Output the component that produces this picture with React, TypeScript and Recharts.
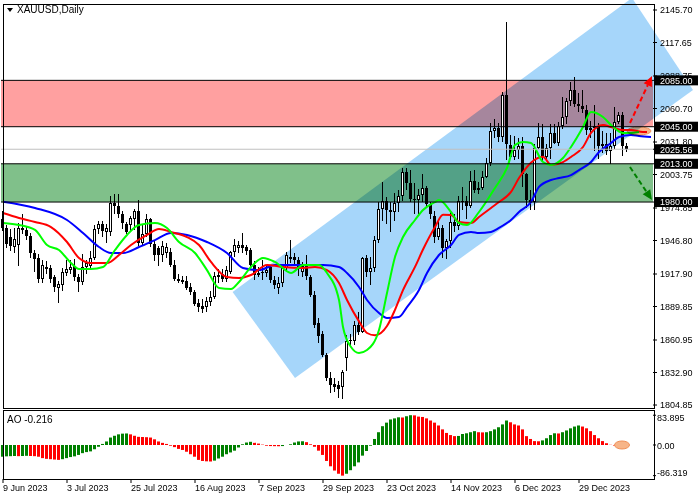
import React from 'react';
import {
  ComposedChart, Bar, Line, XAxis, YAxis, ReferenceArea, ReferenceLine, ReferenceDot, Cell,
} from 'recharts';

const FONT = '"Liberation Sans", Arial, sans-serif';
const SYMBOL = 'XAUUSD,Daily';
const AO_NAME = 'AO';

// x-axis (bar index of each labelled date)
const DATE_LABELS = ['9 Jun 2023', '3 Jul 2023', '25 Jul 2023', '16 Aug 2023', '7 Sep 2023', '29 Sep 2023', '23 Oct 2023', '14 Nov 2023', '6 Dec 2023', '29 Dec 2023'];
const DATE_BARS = [0, 16, 32, 48, 64, 80, 96, 112, 128, 144];

const PRICE_TICKS = [2145.7, 2117.65, 2088.75, 2060.7, 2031.8, 2003.75, 1974.85, 1946.8, 1917.9, 1889.85, 1860.95, 1832.9, 1804.85];
const AO_TICKS = [83.895, 0, -86.319];

const OPEN = [1965,1958,1950,1941,1943,1958,1956,1951,1936,1932,
1914,1924,1923,1915,1906,1908,1919,1921,1925,1915,
1911,1924,1925,1932,1957,1961,1954,1954,1979,1977,
1970,1961,1960,1965,1972,1945,1952,1965,1944,1940,
1934,1936,1937,1926,1914,1913,1912,1907,1902,1893,
1890,1889,1894,1898,1915,1918,1914,1920,1937,1940,
1943,1941,1939,1926,1917,1919,1919,1924,1913,1906,
1910,1923,1931,1933,1930,1920,1925,1915,1900,1876,
1866,1848,1828,1823,1822,1820,1845,1860,1860,1874,
1868,1932,1920,1923,1947,1974,1981,1973,1971,1979,
1985,2006,1996,1983,1982,1986,1992,1978,1968,1950,
1958,1940,1946,1963,1959,1981,1981,1977,1998,1990,
1992,2002,2014,2041,2044,2036,2072,2029,2019,2025,
2028,2004,1982,1980,2027,2036,2019,2027,2040,2031,
2046,2053,2067,2077,2065,2063,2059,2042,2044,2046,
2028,2030,2024,2028,2049,2055,2028];

const HIGH = [1972,1960,1957,1958,1962,1970,1959,1953,1939,1935,
1930,1929,1926,1917,1912,1923,1930,1930,1931,1918,
1935,1930,1938,1960,1964,1964,1961,1985,1987,1987,
1972,1963,1968,1974,1982,1960,1970,1966,1946,1942,
1946,1945,1940,1930,1918,1916,1916,1910,1904,1896,
1896,1898,1903,1920,1922,1922,1925,1938,1948,1946,
1953,1943,1940,1929,1924,1930,1925,1926,1916,1915,
1926,1937,1947,1936,1933,1928,1934,1917,1903,1880,
1869,1850,1833,1828,1826,1835,1865,1866,1877,1885,
1933,1934,1933,1951,1980,1997,1984,1980,1988,1990,
2009,2009,2008,1996,1991,2004,1994,1980,1972,1965,
1960,1948,1971,1970,1985,1993,1985,2007,2008,1997,
2007,2018,2048,2052,2048,2075,2135,2038,2037,2035,
2036,2005,1990,2030,2048,2047,2030,2047,2047,2049,
2071,2070,2084,2088,2074,2077,2064,2050,2064,2048,
2041,2040,2040,2062,2058,2058,2031];

const LOW = [1955,1940,1938,1936,1925,1952,1947,1932,1920,1910,
1910,1918,1910,1902,1893,1903,1916,1918,1912,1902,
1908,1918,1922,1930,1952,1950,1945,1951,1970,1966,
1957,1952,1955,1956,1942,1942,1950,1941,1929,1925,
1928,1932,1924,1912,1910,1909,1904,1900,1890,1885,
1884,1885,1890,1896,1910,1911,1911,1918,1933,1936,
1936,1934,1922,1913,1915,1913,1915,1910,1905,1901,
1907,1920,1927,1925,1916,1915,1913,1898,1871,1858,
1846,1826,1815,1816,1811,1810,1834,1855,1857,1865,
1867,1915,1908,1920,1945,1964,1961,1954,1964,1971,
1981,1990,1980,1970,1970,1980,1975,1965,1945,1947,
1932,1931,1940,1954,1956,1973,1965,1975,1988,1987,
1990,2001,2011,2035,2032,2032,2016,2017,2016,2017,
1993,1975,1973,1973,2026,2015,2016,2017,2030,2028,
2043,2047,2063,2062,2058,2057,2038,2035,2024,2017,
2022,2021,2013,2026,2047,2020,2023];

const CLOSE = [1958,1944,1942,1948,1958,1956,1951,1936,1931,1914,
1926,1922,1914,1907,1909,1920,1922,1924,1915,1911,
1924,1927,1932,1957,1961,1955,1958,1979,1977,1970,
1962,1954,1966,1972,1945,1952,1965,1944,1934,1934,
1942,1941,1926,1914,1912,1911,1906,1902,1892,1889,
1888,1895,1898,1916,1917,1914,1921,1937,1943,1943,
1940,1938,1926,1917,1919,1920,1921,1913,1908,1910,
1923,1934,1933,1930,1922,1925,1916,1900,1874,1864,
1848,1828,1822,1820,1819,1833,1860,1861,1874,1868,
1932,1920,1923,1947,1974,1981,1973,1971,1979,1985,
2006,1996,1983,1982,1986,1992,1978,1970,1950,1958,
1940,1946,1963,1959,1981,1980,1977,1998,1990,1992,
2002,2014,2041,2044,2036,2072,2030,2019,2025,2028,
2004,1982,1980,2027,2036,2019,2027,2040,2031,2046,
2053,2067,2077,2065,2063,2060,2042,2044,2046,2028,
2030,2024,2028,2049,2055,2028,2025.56];

const AO = [-33,-32,-31.5,-31,-31.5,-31,-30.5,-31,-31.5,-33,
-37,-39,-40,-41,-42,-40,-37,-34,-32,-28,
-23,-20,-18,-12,-5,3,10,21,26,30,
32,32.5,30,26,23,22.5,22,21,16,10,
6,3,-2,-6,-11,-14,-19,-26,-33,-42,
-45,-46,-46.5,-44,-38,-33,-26,-21,-16,-7,
2,7,9,6,4,1,-2,-3,-3.3,-3.5,
-3,0,2,7,10,10.5,8,2,-5,-16,
-28,-45,-60,-72,-81,-86.319,-81,-71,-60,-49,
-30,-17,-2,17,36,53,63,72,75,78,
77.5,81,83.895,83.5,80,79,75,69,63,55,
44,34,28,25,25.5,31,33,36,39,36,
35.5,36,39,44,50,58,69,64,58,55,
44,25,17,11,10.5,13,19,28,33,32.5,
36,41,47,52,55,52,47,39,28,19,
11,5,0.5,-1.5,0.3,0.1,-0.216];

// Alligator lines: [bar index, price]
const JAW: [number, number][] = [[0,1980.3],[8,1974.9],[16,1964.5],[20,1953.3],[24,1941.2],[27,1936],[30,1936],[34,1941.2],[38,1947.2],[42,1953.3],[46,1951.6],[51,1945.5],[56,1936],[60,1923.1],[64,1921.3],[68,1925.7],[74,1925.7],[80,1925.7],[84,1923.9],[86,1918.8],[89,1906.7],[91,1895.5],[94,1884.2],[96,1879.9],[99,1880.8],[101,1889.4],[104,1904.1],[106,1918.8],[109,1934.3],[112,1942.9],[114,1951.6],[117,1954.2],[119,1953.3],[122,1954.2],[124,1957.6],[127,1964.5],[129,1971.4],[132,1980],[134,1993],[137,1999],[139,2000.7],[142,2003.3],[144,2007.6],[147,2014.5],[149,2023.2],[152,2030.9],[154,2036.1],[157,2037.8],[159,2037],[162,2036.1]];
const TEETH: [number, number][] = [[0,1970.5],[4,1966.2],[8,1962.8],[12,1958.4],[16,1945.5],[19,1931.7],[22,1927.4],[26,1927.4],[29,1934.3],[32,1942.9],[36,1951.6],[39,1956.7],[42,1954.2],[46,1949.8],[49,1942.9],[52,1928.3],[56,1915.3],[59,1914.4],[62,1917],[66,1925.7],[70,1923.9],[75,1923.1],[78,1923.9],[81,1921.3],[84,1910.1],[86,1895.5],[89,1877],[91,1867],[93,1865],[96,1873],[98,1887],[100,1904],[103,1924],[105,1939],[108,1958.4],[110,1969],[112,1968.8],[114,1962.8],[117,1961.9],[119,1967.1],[122,1974.9],[124,1980],[127,1988.7],[129,2000.7],[132,2014],[135,2019],[137,2012],[140,2014.5],[142,2018.9],[145,2027.5],[147,2039.6],[150,2046.5],[152,2044.7],[155,2042.1],[157,2042.1],[160,2040.4],[161,2040.4]];
const LIPS: [number, number][] = [[0,1961.9],[4,1960.2],[8,1955.9],[11,1942.9],[14,1938.6],[17,1927.4],[19,1922.2],[22,1922.2],[25,1923.9],[28,1938.6],[31,1951.6],[34,1960.2],[38,1961.9],[41,1957.6],[44,1945.5],[48,1936],[51,1921.3],[54,1905.8],[57,1904.9],[59,1911],[62,1923.9],[65,1931.7],[68,1928.3],[72,1918.8],[75,1925.7],[79,1925.7],[81,1918.8],[84,1895.5],[85,1872.2],[87,1854.9],[89,1849.7],[91,1852.3],[94,1869.6],[96,1901.5],[98,1932.6],[100,1949.8],[103,1964.5],[105,1973.1],[108,1980],[109,1981.7],[112,1971.4],[114,1961.9],[116,1960.2],[119,1971.4],[123,1992.1],[126,2009.4],[128,2029.2],[130,2031.8],[132,2030.9],[135,2014.5],[137,2012],[140,2018],[142,2027.5],[145,2044.7],[147,2057.7],[150,2053.4],[152,2046.5],[155,2039.6],[157,2039.6],[159,2040.4]];

// analysis objects
const RESIST_ZONE = [2045, 2085];
const SUPPORT_ZONE = [1980, 2013];
const LAST_PRICE = 2025.56;
const LEVEL_TAGS = [RESIST_ZONE[1], RESIST_ZONE[0], LAST_PRICE, SUPPORT_ZONE[1], SUPPORT_ZONE[0]];
const CHANNEL = [{ i: 57.4, p: 1902.3 }, { i: 73, p: 1828.2 }, { i: 172.5, p: 2076.7 }, { i: 157.25, p: 2156.1 }];
const UP_ARROW = [{ x: 156.75, y: 2048.2 }, { x: 162.25, y: 2088.7 }];
const DOWN_ARROW = [{ x: 156.75, y: 2010.2 }, { x: 162.25, y: 1981.7 }];
const MAIN_MARK = { i: 159, p: 2041.3 };
const AO_MARK = { i: 154.75, v: 0 };

const SLOTS = 163;
const X_DOMAIN = [-0.5, SLOTS - 0.5];
const PRICE_DOMAIN = [1802.28, 2150.88];
const AO_DOMAIN = [-95.8, 98.6];

const jawMap = new Map(JAW);
const teethMap = new Map(TEETH);
const lipsMap = new Map(LIPS);

const ROWS = Array.from({ length: SLOTS }, (_, i) => {
  const has = i < OPEN.length;
  return {
    i,
    range: has ? [LOW[i], HIGH[i]] : null,
    o: has ? OPEN[i] : null,
    h: has ? HIGH[i] : null,
    l: has ? LOW[i] : null,
    c: has ? CLOSE[i] : null,
    ao: has ? AO[i] : null,
    jaw: jawMap.has(i) ? jawMap.get(i) : null,
    teeth: teethMap.has(i) ? teethMap.get(i) : null,
    lips: lipsMap.has(i) ? lipsMap.get(i) : null,
  };
});

const Candle = (props: any) => {
  const { x, y, width, height, payload } = props;
  if (!payload || payload.h == null || !isFinite(y) || !isFinite(height)) return null;
  const { o, h, l, c } = payload;
  const top0 = Math.min(y, y + height);
  const hh = Math.abs(height);
  const cx = Math.floor(x + width / 2);
  const span = h - l || 1;
  const py = (v: number) => top0 + ((h - v) / span) * hh;
  const bTop = Math.round(py(Math.max(o, c)));
  const bBot = Math.max(bTop + 1, Math.round(py(Math.min(o, c))));
  const bull = c >= o;
  const wTop = Math.round(top0);
  const wBot = Math.max(wTop + 1, Math.round(top0 + hh));
  return (
    <g shapeRendering="crispEdges">
      <rect x={cx} y={wTop} width={1} height={wBot - wTop} fill="#000" />
      <rect x={cx - 1} y={bTop} width={3} height={bBot - bTop} fill="#000" />
      {bull && bBot - bTop > 2 ? <rect x={cx} y={bTop + 1} width={1} height={bBot - bTop - 2} fill="#fff" /> : null}
    </g>
  );
};

const blendRect = (fill: string) => (p: any) => (
  <rect x={p.x} y={p.y} width={p.width} height={p.height} fill={fill} style={{ mixBlendMode: 'multiply' }} />
);

const channelShape = (p: any) => {
  const is = CHANNEL.map((q) => q.i);
  const ps = CHANNEL.map((q) => q.p);
  const iMin = Math.min(...is), iMax = Math.max(...is);
  const pMin = Math.min(...ps), pMax = Math.max(...ps);
  const pts = CHANNEL.map((q) => {
    const px = p.x + ((q.i - iMin) / (iMax - iMin)) * p.width;
    const py = p.y + ((pMax - q.p) / (pMax - pMin)) * p.height;
    return `${px},${py}`;
  }).join(' ');
  return <polygon points={pts} fill="#a6d6fa" style={{ mixBlendMode: 'multiply' }} />;
};

const arrowShape = (color: string) => (p: any) => {
  const { x1, y1, x2, y2 } = p;
  if (![x1, y1, x2, y2].every((v) => typeof v === 'number' && isFinite(v))) return null;
  const dx = x2 - x1, dy = y2 - y1;
  const len = Math.hypot(dx, dy) || 1;
  const ux = dx / len, uy = dy / len;
  const hl = 10, hw = 4.5;
  const bx = x2 - ux * hl, by = y2 - uy * hl;
  return (
    <g>
      <line x1={x1} y1={y1} x2={bx} y2={by} stroke={color} strokeWidth={2} strokeDasharray="5 3" />
      <polygon points={`${x2},${y2} ${bx - uy * hw},${by + ux * hw} ${bx + uy * hw},${by - ux * hw}`} fill={color} />
    </g>
  );
};

// price axis tick: plain labels, and black tags for the marked levels (drawn last, on top)
const PriceTick = (p: any) => {
  const v = p.payload?.value;
  if (typeof v !== 'number') return null;
  const isTag = LEVEL_TAGS.includes(v);
  if (isTag) {
    return (
      <g>
        <rect x={p.x - 6} y={p.y - 5} width={44} height={10} fill="#000" />
        <text x={p.x} y={p.y + 3.3} fill="#fff" fontSize={9} fontFamily={FONT}>{v.toFixed(2)}</text>
      </g>
    );
  }
  return <text x={p.x} y={p.y + 3.3} fill="#000" fontSize={9} fontFamily={FONT}>{v.toFixed(2)}</text>;
};

const DateTick = (p: any) => {
  const idx = DATE_BARS.indexOf(p.payload?.value);
  if (idx < 0) return null;
  return (
    <text x={p.x} y={p.y + 8} fontSize={9} fontFamily={FONT} fill="#000" textAnchor="start">{DATE_LABELS[idx]}</text>
  );
};

const AoTick = (p: any) => {
  const v = p.payload?.value;
  const off = v > 0 ? 3 : v < 0 ? -2.5 : 1;
  const label = v === 0 ? '0.00' : String(v);
  return (
    <text x={p.x} y={p.y + off + 3.2} fontSize={9} fontFamily={FONT} fill="#000" textAnchor="start">{label}</text>
  );
};

const aoColor = (i: number) => (i === 0 || AO[i] >= AO[i - 1] ? '#008000' : '#ff0000');

export default function App() {
  return (
    <div style={{ position: 'absolute', left: 0, top: 0, width: 700, height: 500, background: '#fff', overflow: 'hidden' }}>
      <div style={{ position: 'absolute', left: 0, top: 0 }}>
        <ComposedChart width={700} height={413} data={ROWS} margin={{ top: 4, right: 0, bottom: 5, left: 1 }} style={{ overflow: 'visible' }}>
          <XAxis type="number" dataKey="i" domain={X_DOMAIN} allowDataOverflow hide />
          <YAxis
            orientation="right"
            type="number"
            domain={PRICE_DOMAIN}
            allowDataOverflow
            ticks={[...PRICE_TICKS, ...LEVEL_TAGS]}
            interval={0}
            width={47}
            axisLine={false}
            tickLine={{ stroke: '#000' }}
            tickSize={4}
            tickMargin={3}
            tick={<PriceTick />}
          />
          <Bar dataKey="range" barSize={3} shape={<Candle />} isAnimationActive={false} />
          <Line dataKey="jaw" type="monotone" stroke="#0000ff" strokeWidth={2} dot={false} activeDot={false} connectNulls isAnimationActive={false} />
          <Line dataKey="teeth" type="monotone" stroke="#ff0000" strokeWidth={2} dot={false} activeDot={false} connectNulls isAnimationActive={false} />
          <Line dataKey="lips" type="monotone" stroke="#00ff00" strokeWidth={2} dot={false} activeDot={false} connectNulls isAnimationActive={false} />
          <ReferenceArea y1={RESIST_ZONE[0]} y2={RESIST_ZONE[1]} ifOverflow="visible" shape={blendRect('#ffa0a0')} />
          <ReferenceArea y1={SUPPORT_ZONE[0]} y2={SUPPORT_ZONE[1]} ifOverflow="visible" shape={blendRect('#80c08a')} />
          <ReferenceArea
            x1={Math.min(...CHANNEL.map((q) => q.i))}
            x2={Math.max(...CHANNEL.map((q) => q.i))}
            y1={Math.min(...CHANNEL.map((q) => q.p))}
            y2={Math.max(...CHANNEL.map((q) => q.p))}
            ifOverflow="visible"
            shape={channelShape}
          />
          <ReferenceLine y={LAST_PRICE} stroke="#c0c0c0" strokeWidth={1} ifOverflow="visible" />
          {[RESIST_ZONE[1], RESIST_ZONE[0], SUPPORT_ZONE[1], SUPPORT_ZONE[0]].map((v) => (
            <ReferenceLine key={`lvl-${v}`} y={v} stroke="#000" strokeWidth={1} ifOverflow="visible" />
          ))}
          <ReferenceDot
            x={MAIN_MARK.i}
            y={MAIN_MARK.p}
            ifOverflow="visible"
            shape={(p: any) => <ellipse cx={p.cx} cy={p.cy} rx={12} ry={4} fill="#f7b488" stroke="#ef8f58" strokeWidth={1} style={{ mixBlendMode: 'multiply' }} />}
          />
          <ReferenceLine segment={UP_ARROW} ifOverflow="visible" shape={arrowShape('#ff0000')} />
          <ReferenceLine segment={DOWN_ARROW} ifOverflow="visible" shape={arrowShape('#008000')} />
        </ComposedChart>
      </div>

      <div style={{ position: 'absolute', left: 0, top: 408 }}>
        <ComposedChart width={700} height={92} data={ROWS} margin={{ top: 2, right: 0, bottom: 0, left: 1 }}>
          <XAxis
            type="number"
            dataKey="i"
            domain={X_DOMAIN}
            allowDataOverflow
            ticks={DATE_BARS}
            interval={0}
            height={21}
            axisLine={false}
            tickLine={{ stroke: '#000' }}
            tickSize={4}
            tickMargin={0}
            tick={<DateTick />}
          />
          <YAxis
            orientation="right"
            type="number"
            domain={AO_DOMAIN}
            allowDataOverflow
            ticks={AO_TICKS}
            interval={0}
            width={47}
            axisLine={false}
            tickLine={{ stroke: '#000' }}
            tickSize={3}
            tickMargin={1}
            tick={<AoTick />}
          />
          <ReferenceDot
            x={AO_MARK.i}
            y={AO_MARK.v}
            ifOverflow="visible"
            shape={(p: any) => <ellipse cx={p.cx} cy={p.cy} rx={7.5} ry={4} fill="#f7b488" stroke="#ef8f58" strokeWidth={1} />}
          />
          <Bar dataKey="ao" barSize={3} isAnimationActive={false}>
            {ROWS.map((r, i) => (
              <Cell key={`ao-${i}`} fill={i < AO.length ? aoColor(i) : 'none'} />
            ))}
          </Bar>
        </ComposedChart>
      </div>

      {/* panel frames */}
      <div style={{ position: 'absolute', left: 3, top: 4, width: 652, height: 405, border: '1px solid #000', boxSizing: 'border-box', pointerEvents: 'none' }} />
      <div style={{ position: 'absolute', left: 3, top: 410, width: 652, height: 70, border: '1px solid #000', boxSizing: 'border-box', pointerEvents: 'none' }} />

      <div style={{ position: 'absolute', left: 7, top: 5, display: 'flex', alignItems: 'center', fontFamily: FONT, fontSize: 10, lineHeight: '10px', color: '#000' }}>
        <svg width={6} height={4} style={{ marginRight: 4 }}><polygon points="0,0 6,0 3,4" fill="#000" /></svg>
        <span>{SYMBOL}</span>
      </div>
      <div style={{ position: 'absolute', left: 7, top: 415, fontFamily: FONT, fontSize: 10, lineHeight: '10px', color: '#000' }}>
        {`${AO_NAME} ${AO[AO.length - 1].toFixed(3)}`}
      </div>
    </div>
  );
}
